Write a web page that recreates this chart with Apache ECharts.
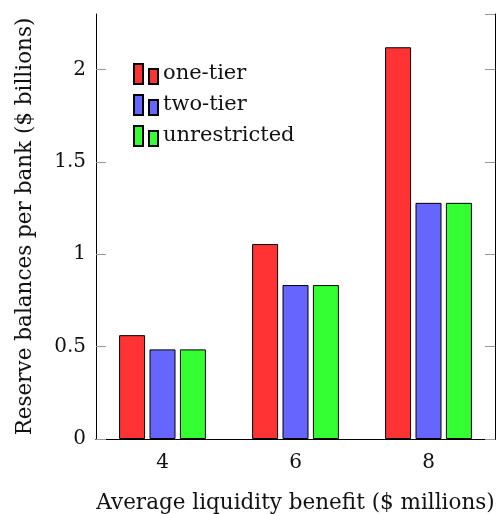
<!DOCTYPE html>
<html>
<head>
<meta charset="utf-8">
<script src="https://cdn.jsdelivr.net/npm/echarts@6/dist/echarts.min.js"></script>
<style>
  html, body { margin: 0; padding: 0; background: #fff; }
  #chart { width: 497px; height: 514px; }
</style>
</head>
<body>
<div id="chart"></div>
<script>
// data
const categories = ["4", "6", "8"];
const oneTier = [0.562, 1.055, 2.12];
const twoTier = [0.485, 0.833, 1.278];
const unrestricted = [0.485, 0.833, 1.278];
const yTicks = [0, 0.5, 1, 1.5, 2];

const font = "'DejaVu Serif', 'Liberation Serif', serif";
const textColor = "#111";
const legendIcon = "path://M0,0H9V20H0Z M15,5H24V20H15Z";

const chart = echarts.init(document.getElementById("chart"));

function barSeries(name, data, color) {
  return {
    name: name,
    type: "bar",
    data: data,
    barWidth: 26,
    barGap: "17%",
    itemStyle: {
      color: color,
      borderColor: "#000",
      borderWidth: 1,
    },
  };
}

const option = {
  animation: false,
  backgroundColor: "#fff",
  textStyle: { fontFamily: font },
  grid: {
    left: 96,
    right: 2,
    top: 14,
    bottom: 75,
    containLabel: false,
    outerBoundsMode: "none",
  },
  legend: {
    left: 128,
    top: 58,
    orient: "vertical",
    icon: legendIcon,
    itemWidth: 24,
    itemHeight: 20,
    itemGap: 9,
    textStyle: {
      fontFamily: font,
      fontSize: 21,
      color: textColor,
    },
    data: ["one-tier", "two-tier", "unrestricted"],
  },
  xAxis: [
    {
      type: "category",
      data: categories,
      position: "bottom",
      name: "Average liquidity benefit ($ millions)",
      nameLocation: "middle",
      nameGap: 53,
      nameTextStyle: { fontFamily: font, fontSize: 21.5, color: textColor },
      axisLine: { lineStyle: { color: "#000", width: 1 } },
      axisTick: {
        alignWithLabel: true,
        length: 10,
        lineStyle: { color: "#999" },
      },
      axisLabel: {
        fontFamily: font,
        fontSize: 20,
        color: textColor,
        margin: 14,
      },
    },
    {
      type: "category",
      data: categories,
      position: "top",
      axisLine: { lineStyle: { color: "#000", width: 1 } },
      axisTick: {
        alignWithLabel: true,
        length: 10,
        lineStyle: { color: "#999" },
      },
      axisLabel: { show: false },
    },
  ],
  yAxis: [
    {
      type: "value",
      min: 0,
      max: 2.3,
      interval: 0.5,
      position: "left",
      name: "Reserve balances per bank ($ billions)",
      nameLocation: "middle",
      nameGap: 60,
      nameTextStyle: { fontFamily: font, fontSize: 21.5, color: textColor },
      axisLine: { show: true, lineStyle: { color: "#000", width: 1 } },
      axisTick: {
        show: true,
        inside: true,
        length: 10,
        lineStyle: { color: "#999" },
      },
      splitLine: { show: false },
      axisLabel: {
        fontFamily: font,
        fontSize: 20,
        color: textColor,
        margin: 10,
        showMaxLabel: false,
        formatter: function (v) {
          return yTicks.indexOf(v) >= 0 ? String(v) : "";
        },
      },
    },
    {
      type: "value",
      min: 0,
      max: 2.3,
      interval: 0.5,
      position: "right",
      axisLine: { show: true, lineStyle: { color: "#000", width: 1 } },
      axisTick: {
        show: true,
        inside: true,
        length: 10,
        lineStyle: { color: "#999" },
      },
      splitLine: { show: false },
      axisLabel: { show: false },
    },
  ],
  series: [
    barSeries("one-tier", oneTier, "#ff3333"),
    barSeries("two-tier", twoTier, "#6666ff"),
    barSeries("unrestricted", unrestricted, "#33ff33"),
  ],
};
chart.setOption(option);

window.addEventListener("resize", function () {
  chart.resize();
});
</script>
</body>
</html>
